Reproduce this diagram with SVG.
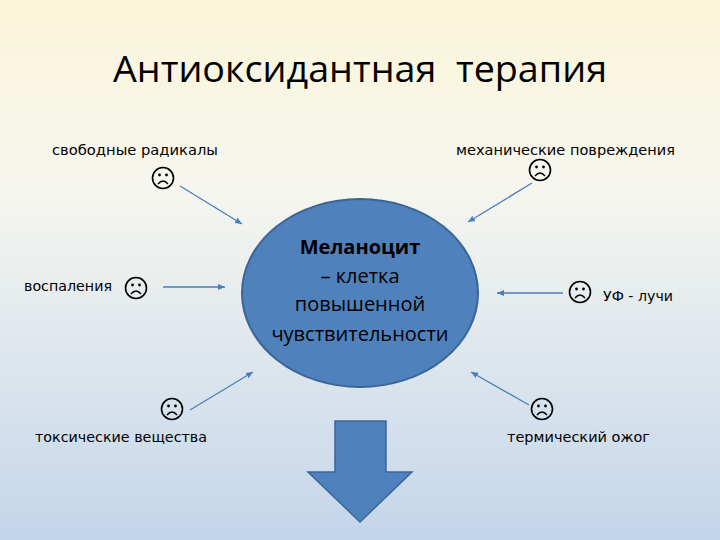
<svg xmlns="http://www.w3.org/2000/svg" width="720" height="540" viewBox="0 0 720 540">
<defs>
<linearGradient id="bg" x1="0" y1="0" x2="0" y2="1">
<stop offset="0" stop-color="#fbf5d8"/>
<stop offset="0.35" stop-color="#f6f6ef"/>
<stop offset="1" stop-color="#c3d5ea"/>
</linearGradient>
<marker id="ah" markerWidth="8" markerHeight="8" refX="7" refY="4" orient="auto" markerUnits="userSpaceOnUse">
<path d="M0,1 L7,4 L0,7 Z" fill="#4a7ebb"/>
</marker>
<g id="sad">
<circle r="10.5" fill="none" stroke="#000" stroke-width="1.6"/>
<circle cx="-3.5" cy="-3" r="1.4" fill="#000"/>
<circle cx="3.5" cy="-3" r="1.4" fill="#000"/>
<path d="M-5,6 Q0,0 5,6" fill="none" stroke="#000" stroke-width="1.4"/>
</g>
</defs>
<style>
.t{font-family:"DejaVu Sans",sans-serif;font-size:14.5px;fill:#000}
.c{stroke:#4a7ebb;stroke-width:1.3;fill:none;marker-end:url(#ah)}
.e{font-family:"Open Sans","DejaVu Sans",sans-serif;font-size:20px;fill:#000;text-anchor:middle}
</style>
<rect width="720" height="540" fill="url(#bg)"/>
<text x="113" y="82" font-family="'Open Sans',sans-serif" font-size="37" fill="#000" xml:space="preserve" textLength="494" lengthAdjust="spacingAndGlyphs">Антиоксидантная  терапия</text>
<g id="connectors">
<line class="c" x1="180" y1="186" x2="242" y2="224"/>
<line class="c" x1="163" y1="287" x2="225" y2="287"/>
<line class="c" x1="532" y1="183" x2="468" y2="222"/>
<line class="c" x1="563" y1="293" x2="497" y2="293"/>
<line class="c" x1="190" y1="410" x2="253" y2="372"/>
<line class="c" x1="529" y1="405" x2="471" y2="372"/>
</g>
<g id="center">
<ellipse cx="360" cy="293" rx="118" ry="94" fill="#4f81bd" stroke="#3a6595" stroke-width="2"/>
<text class="e" x="360" y="254" font-weight="bold">Меланоцит</text>
<text class="e" x="360" y="283">– клетка</text>
<text class="e" x="360" y="311">повышенной</text>
<text class="e" x="360" y="341">чувствительности</text>
</g>
<g id="result">
<path d="M335,421 H386 V472 H412 L360,522 L308,472 H335 Z" fill="#4f81bd" stroke="#3a6595" stroke-width="1.5"/>
</g>
<g id="n1"><text class="t" x="52" y="155" textLength="166" lengthAdjust="spacingAndGlyphs">свободные радикалы</text><use href="#sad" x="163" y="178"/></g>
<g id="n2"><text class="t" x="456" y="155" textLength="219" lengthAdjust="spacingAndGlyphs">механические повреждения</text><use href="#sad" x="540" y="170"/></g>
<g id="n3"><text class="t" x="24" y="291" textLength="88" lengthAdjust="spacingAndGlyphs">воспаления</text><use href="#sad" x="136" y="288"/></g>
<g id="n4"><text class="t" x="603" y="301" textLength="70" lengthAdjust="spacingAndGlyphs">УФ - лучи</text><use href="#sad" x="580" y="292"/></g>
<g id="n5"><text class="t" x="35" y="442" textLength="172" lengthAdjust="spacingAndGlyphs">токсические вещества</text><use href="#sad" x="172" y="409"/></g>
<g id="n6"><text class="t" x="507" y="442" textLength="143" lengthAdjust="spacingAndGlyphs">термический ожог</text><use href="#sad" x="542" y="409"/></g>
</svg>
